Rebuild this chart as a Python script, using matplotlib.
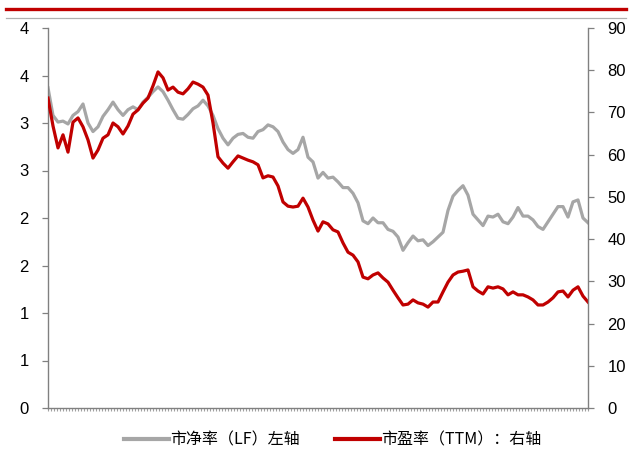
import numpy as np
import matplotlib
matplotlib.use('Agg')
import matplotlib.pyplot as plt
from matplotlib.lines import Line2D
from matplotlib.ticker import MultipleLocator, FixedLocator

plt.rcParams['font.family'] = ['Liberation Sans', 'DejaVu Sans']

# 市净率 (LF), left axis
pb = [3.37, 3.08, 3.01, 3.02, 2.99, 3.08, 3.12, 3.20, 3.00, 2.91,
      2.96, 3.07, 3.14, 3.22, 3.14, 3.08, 3.14, 3.17, 3.14, 3.22,
      3.27, 3.33, 3.38, 3.33, 3.24, 3.14, 3.05, 3.04, 3.09, 3.15,
      3.18, 3.24, 3.18, 3.08, 2.94, 2.84, 2.77, 2.84, 2.88, 2.89,
      2.85, 2.84, 2.91, 2.93, 2.98, 2.96, 2.91, 2.80, 2.72, 2.68,
      2.72, 2.85, 2.64, 2.59, 2.42, 2.48, 2.42, 2.43, 2.38, 2.32,
      2.32, 2.26, 2.16, 1.97, 1.94, 2.00, 1.95, 1.95, 1.88, 1.86,
      1.80, 1.66, 1.74, 1.81, 1.76, 1.77, 1.71, 1.75, 1.80, 1.85,
      2.08, 2.23, 2.29, 2.34, 2.24, 2.04, 1.98, 1.92, 2.02, 2.01,
      2.04, 1.96, 1.94, 2.01, 2.11, 2.02, 2.02, 1.98, 1.91, 1.88,
      1.96, 2.04, 2.12, 2.12, 2.01, 2.17, 2.19, 2.00, 1.95]

# 市盈率 (TTM), right axis
pe = [73.4, 66.8, 61.6, 64.7, 60.6, 67.7, 68.7, 66.6, 63.5, 59.2,
      61.1, 63.9, 64.7, 67.5, 66.6, 64.9, 66.8, 69.6, 70.6, 72.2,
      73.4, 76.3, 79.6, 78.2, 75.3, 76.0, 74.8, 74.4, 75.6, 77.2,
      76.7, 76.0, 74.1, 67.5, 59.5, 58.0, 56.8, 58.3, 59.7, 59.2,
      58.7, 58.3, 57.6, 54.5, 55.0, 54.7, 52.6, 48.8, 47.8, 47.6,
      47.8, 49.7, 47.6, 44.5, 41.9, 44.1, 43.6, 42.2, 41.7, 39.1,
      36.9, 36.2, 34.6, 31.0, 30.6, 31.5, 32.0, 30.8, 29.8, 27.9,
      26.1, 24.4, 24.6, 25.6, 24.9, 24.6, 23.9, 25.1, 25.1, 27.5,
      29.8, 31.5, 32.2, 32.4, 32.7, 28.7, 27.7, 27.0, 28.7, 28.4,
      28.7, 28.2, 26.8, 27.5, 26.8, 26.8, 26.3, 25.6, 24.4, 24.4,
      25.1, 26.1, 27.5, 27.7, 26.3, 27.9, 28.7, 26.5, 25.1]

left_ticks = [0, 0.5, 1, 1.5, 2, 2.5, 3, 3.5, 4]
left_labels = ['0', '1', '1', '2', '2', '3', '3', '4', '4']
right_ticks = [0, 10, 20, 30, 40, 50, 60, 70, 80, 90]

gray = '#A6A6A6'
red = '#C00000'
axis_col = '#808080'

fig = plt.figure(figsize=(6.29, 4.62), dpi=100)
ax = fig.add_axes([48 / 629, 54 / 462, 540 / 629, 380 / 462])
ax2 = ax.twinx()

x = np.arange(len(pb))
ax.plot(x, pb, color=gray, lw=2.3, solid_joinstyle='round')
ax2.plot(x, pe, color=red, lw=2.3, solid_joinstyle='round')

ax.set_xlim(0, len(pb) - 1)
ax.set_ylim(0, 4)
ax2.set_ylim(0, 90)

ax.yaxis.set_major_locator(FixedLocator(left_ticks))
ax.set_yticklabels(left_labels)
ax2.yaxis.set_major_locator(FixedLocator(right_ticks))
ax2.set_yticklabels([str(t) for t in right_ticks])

ax.set_xticks([])
ax.xaxis.set_minor_locator(MultipleLocator(0.6))
ax.tick_params(axis='x', which='minor', length=2.5, width=0.8, color='#A0A0A0', direction='out')

for a in (ax, ax2):
    a.spines['top'].set_visible(False)
    for s in ('left', 'right', 'bottom'):
        a.spines[s].set_color(axis_col)
        a.spines[s].set_linewidth(1.0)
    a.tick_params(axis='y', length=4, width=0.9, color=axis_col, labelsize=12, pad=10)
ax.spines['right'].set_visible(False)
ax2.spines['left'].set_visible(False)
ax2.spines['bottom'].set_visible(False)

# header rules
fig.add_artist(Line2D([6 / 629, 626 / 629], [1 - 9 / 462] * 2, color=red, lw=2.4))
fig.add_artist(Line2D([6 / 629, 626 / 629], [1 - 18 / 462] * 2, color='#B0B0B0', lw=0.9))

handles = [Line2D([], [], color=gray, lw=3), Line2D([], [], color=red, lw=3)]
labels = ['市净率（LF）左轴', '市盈率（TTM）：右轴']
fig.legend(handles, labels, loc='center', bbox_to_anchor=(333 / 629, 1 - 440 / 462),
           ncol=2, frameon=False, handlelength=2.8, handletextpad=0.1, columnspacing=2.2,
           prop={'family': ['Noto Sans CJK SC', 'DejaVu Sans'], 'size': 11.5})

fig.savefig('out.png', dpi=100)
